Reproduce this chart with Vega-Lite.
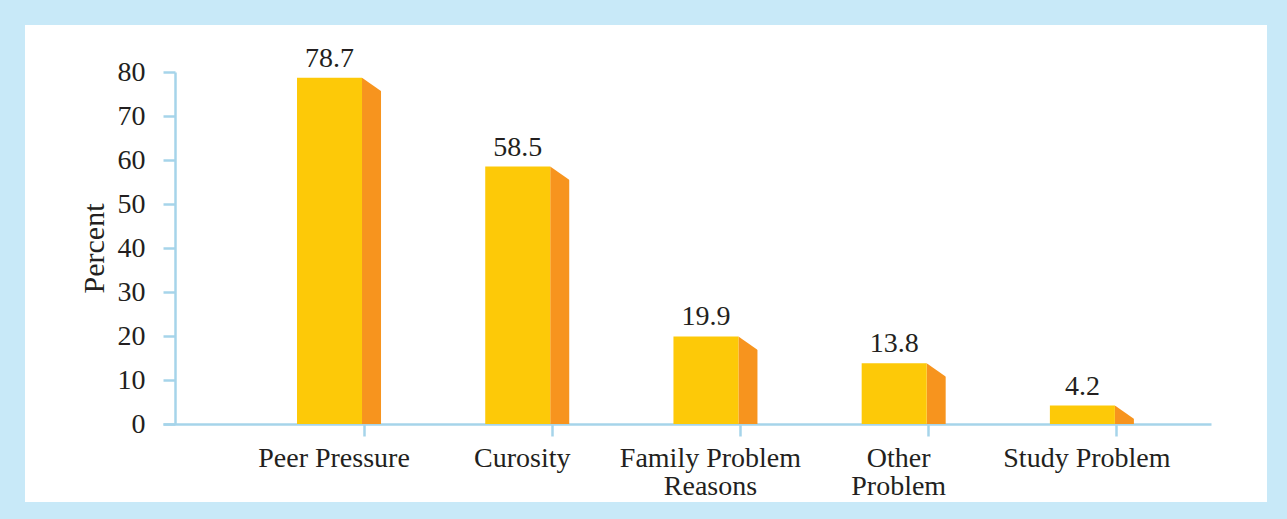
{
  "$schema": "https://vega.github.io/schema/vega-lite/v6.json",
  "width": 1242,
  "height": 477,
  "autosize": {"type": "none"},
  "padding": {"left": 25, "top": 25, "right": 20, "bottom": 17},
  "background": "#C8E9F8",
  "config": {
    "view": {"stroke": null, "fill": "#FFFFFF"},
    "font": "Liberation Serif"
  },
  "data": {
    "values": [
      {"cat": "Peer Pressure", "value": 78.7},
      {"cat": "Curosity", "value": 58.5},
      {"cat": "Family Problem Reasons", "value": 19.9},
      {"cat": "Other Problem", "value": 13.8},
      {"cat": "Study Problem", "value": 4.2}
    ]
  },
  "encoding": {
    "x": {
      "field": "cat",
      "type": "nominal",
      "scale": {
        "type": "band",
        "domain": ["Peer Pressure", "Curosity", "Family Problem Reasons", "Other Problem", "Study Problem"],
        "range": [138, 1186],
        "paddingInner": 0,
        "paddingOuter": 0.284,
        "align": 1
      },
      "axis": {
        "orient": "bottom",
        "offset": -78,
        "title": null,
        "labelAngle": 0,
        "labelBaseline": "top",
        "labelPadding": 8,
        "labelOffset": -30,
        "labelLineHeight": 28,
        "labelFont": "Liberation Serif",
        "labelFontSize": 28,
        "labelColor": "#231F20",
        "labelLimit": 0,
        "labelExpr": "datum.value == 'Family Problem Reasons' ? ['Family Problem', 'Reasons'] : datum.value == 'Other Problem' ? ['Other', 'Problem'] : datum.value",
        "domainColor": "#A6D4EA",
        "domainWidth": 2.5,
        "tickColor": "#A6D4EA",
        "tickWidth": 2.5,
        "tickSize": 12,
        "grid": false
      }
    },
    "y": {
      "field": "value",
      "type": "quantitative",
      "scale": {"domain": [0, 80], "range": [399, 47], "nice": false, "zero": true},
      "axis": {
        "offset": -150,
        "values": [0, 10, 20, 30, 40, 50, 60, 70, 80],
        "title": "Percent",
        "titleFont": "Liberation Serif",
        "titleFontSize": 30,
        "titleFontWeight": "normal",
        "titleColor": "#231F20",
        "titlePadding": 8,
        "labelFont": "Liberation Serif",
        "labelFontSize": 28,
        "labelColor": "#231F20",
        "labelPadding": 18,
        "domainColor": "#A6D4EA",
        "domainWidth": 2.5,
        "tickColor": "#A6D4EA",
        "tickWidth": 2.5,
        "tickSize": 12,
        "grid": false
      }
    }
  },
  "layer": [
    {"mark": {"type": "bar", "width": 19, "xOffset": 7.5, "color": "#F7941E"}},
    {
      "mark": {
        "type": "point",
        "shape": "M-1,-0.85 L1,-0.85 L1,0.7 L-1,-0.7 Z",
        "size": 400,
        "filled": true,
        "color": "#FFFFFF",
        "opacity": 1,
        "strokeWidth": 0,
        "xOffset": 8,
        "yOffset": 7
      }
    },
    {"mark": {"type": "bar", "width": 65, "xOffset": -34.5, "color": "#FDC908"}},
    {
      "mark": {
        "type": "text",
        "font": "Liberation Serif",
        "fontSize": 28,
        "color": "#231F20",
        "baseline": "alphabetic",
        "dy": -11,
        "xOffset": -34.5
      },
      "encoding": {"text": {"field": "value", "type": "quantitative", "format": ".1f"}}
    }
  ]
}
